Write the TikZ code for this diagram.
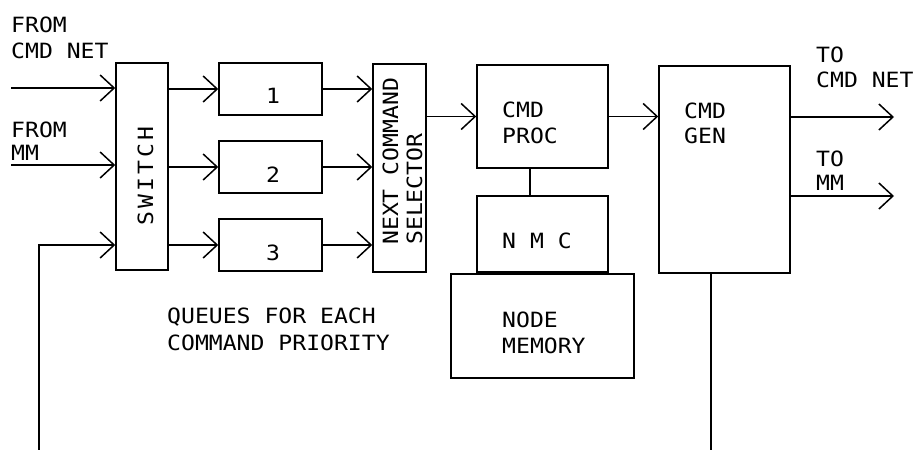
\documentclass[tikz,border=0pt]{standalone}
\usepackage{fontspec}
\newfontfamily\plotfont[FakeStretch=1.1]{DejaVu Sans Mono}
\newfontfamily\plotfontwide[FakeStretch=1.1,LetterSpace=15]{DejaVu Sans Mono}
\usetikzlibrary{arrows.meta}
\begin{document}
\begin{tikzpicture}[x=1pt,y=-1pt,
  box/.style={draw,line width=1.5pt,inner sep=0pt},
  txt/.style={font=\plotfont\fontsize{21}{26}\selectfont,inner sep=0pt,anchor=base west},
  num/.style={font=\plotfont\fontsize{21}{26}\selectfont,inner sep=0pt,anchor=base},
  arr/.style={line width=1.5pt,-{Straight Barb[length=14pt,width=26pt]}},
  wire/.style={line width=1.5pt}]
\useasboundingbox (0,0) rectangle (914,450);
% boxes
\node[box,minimum width=52pt,minimum height=207pt] (sw) at (142,166.5) {};
\node[box,minimum width=103pt,minimum height=52pt] (q1) at (270.5,89) {};
\node[box,minimum width=103pt,minimum height=52pt] (q2) at (270.5,167) {};
\node[box,minimum width=103pt,minimum height=52pt] (q3) at (270.5,245) {};
\node[box,minimum width=53pt,minimum height=208pt] (sel) at (399.5,168) {};
\node[box,minimum width=131pt,minimum height=103pt] (proc) at (542.5,116.5) {};
\node[box,minimum width=131pt,minimum height=76pt] (nmc) at (542.5,234) {};
\node[box,minimum width=183pt,minimum height=104pt] (mem) at (542.5,326) {};
\node[box,minimum width=131pt,minimum height=207pt] (gen) at (724.5,169.5) {};
% free ends
\coordinate (in1) at (11,88);
\coordinate (in2) at (11,165);
\coordinate (fbB) at (39,450);
\coordinate (fbT) at (39,245);
\coordinate (out1) at (894,117);
\coordinate (out2) at (894,196);
\coordinate (genB) at (711,450);
% connectors
\draw[arr] (in1) -- (in1 -| sw.west);
\draw[arr] (in2) -- (in2 -| sw.west);
\draw[arr] (fbB) -- (fbT) -- (fbT -| sw.west);
\draw[arr] (sw.east |- q1) -- (q1.west);
\draw[arr] (sw.east |- q2) -- (q2.west);
\draw[arr] (sw.east |- q3) -- (q3.west);
\draw[arr] (q1.east) -- (q1 -| sel.west);
\draw[arr] (q2.east) -- (q2 -| sel.west);
\draw[arr] (q3.east) -- (q3 -| sel.west);
\draw[arr] (sel.east |- proc) -- (proc.west);
\draw[arr] (proc.east) -- (proc -| gen.west);
\draw[wire] ([xshift=-12.5pt]proc.south) -- ([xshift=-12.5pt]nmc.north);
\draw[arr] (gen.east |- out1) -- (out1);
\draw[arr] (gen.east |- out2) -- (out2);
\draw[wire] (gen.south -| genB) -- (genB);
% texts
\node[txt] (l1) at (11,32) {FROM};
\node[txt] (l2) at (11,58) {CMD NET};
\node[txt] (l3) at (11,137) {FROM};
\node[txt] (l4) at (11,160) {MM};
\node[txt] (r1) at (816,62) {TO};
\node[txt] (r2) at (816,87) {CMD NET};
\node[txt] (r3) at (816,166) {TO};
\node[txt] (r4) at (816,190) {MM};
\node[txt] (pt1) at (502,117) {CMD};
\node[txt] (pt2) at (502,143) {PROC};
\node[txt] (gt1) at (684,118) {CMD};
\node[txt] (gt2) at (684,143) {GEN};
\node[txt] (nt) at (502,248) {N M C};
\node[txt] (mt1) at (502,327) {NODE};
\node[txt] (mt2) at (502,353) {MEMORY};
\node[txt] (qt1) at (167,323) {QUEUES FOR EACH};
\node[txt] (qt2) at (167,350) {COMMAND PRIORITY};
\node[num] (n1) at (273,103) {1};
\node[num] (n2) at (273,182) {2};
\node[num] (n3) at (273,260) {3};
\node[txt,rotate=90,font=\plotfontwide\fontsize{21}{26}\selectfont] (swt) at (153,226) {SWITCH};
\node[txt,rotate=90] (st1) at (398,245) {NEXT COMMAND};
\node[txt,rotate=90] (st2) at (422,245) {SELECTOR};
\end{tikzpicture}
\end{document}
